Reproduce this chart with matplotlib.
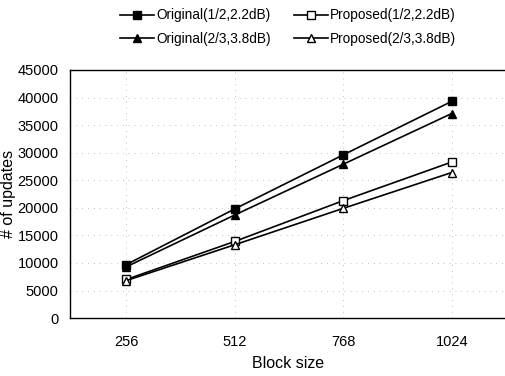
import matplotlib
matplotlib.use("Agg")
import matplotlib.pyplot as plt

plt.rcParams['font.family'] = ['Liberation Sans', 'DejaVu Sans']

block_sizes = ["256", "512", "768", "1024"]
orig_12 = [9700, 19800, 29600, 39300]
orig_23 = [9300, 18700, 27900, 37100]
prop_12 = [7000, 13900, 21300, 28300]
prop_23 = [6800, 13300, 19900, 26400]
y_ticks = [0, 5000, 10000, 15000, 20000, 25000, 30000, 35000, 40000, 45000]

fig = plt.figure(figsize=(5.06, 3.76), dpi=100)
ax = fig.add_axes([0.138, 0.154, 0.862, 0.66])
x = range(len(block_sizes))
ax.plot(x, orig_12, '-s', color='black', lw=1.2, ms=6, mfc='black', label='Original(1/2,2.2dB)')
ax.plot(x, orig_23, '-^', color='black', lw=1.2, ms=6, mfc='black', label='Original(2/3,3.8dB)')
ax.plot(x, prop_12, '-s', color='black', lw=1.2, ms=6, mfc='white', label='Proposed(1/2,2.2dB)')
ax.plot(x, prop_23, '-^', color='black', lw=1.2, ms=6, mfc='white', label='Proposed(2/3,3.8dB)')

ax.set_xlim(-0.52, 3.5)
ax.set_ylim(0, 45000)
ax.set_xticks(list(x))
ax.set_xticklabels(block_sizes)
ax.set_yticks(y_ticks)
ax.tick_params(axis='both', length=0, labelsize=10.5)
ax.tick_params(axis='x', pad=12)
ax.tick_params(axis='y', pad=8)
ax.grid(True, color='#aaaaaa', ls=(0, (1, 6)), lw=0.6)
ax.spines['right'].set_visible(False)
for s in ['left', 'bottom', 'top']:
    ax.spines[s].set_linewidth(1.0)
ax.set_xlabel('Block size', fontsize=11.5, labelpad=5)
ax.set_ylabel('# of updates', fontsize=11.5, labelpad=1)
ax.legend(loc='lower center', bbox_to_anchor=(0.5, 1.075), ncol=2, frameon=False,
          fontsize=9.8, handlelength=2.5, columnspacing=1.7, handletextpad=0.15,
          labelspacing=0.7, borderaxespad=0)
fig.savefig('out.png', dpi=100)
